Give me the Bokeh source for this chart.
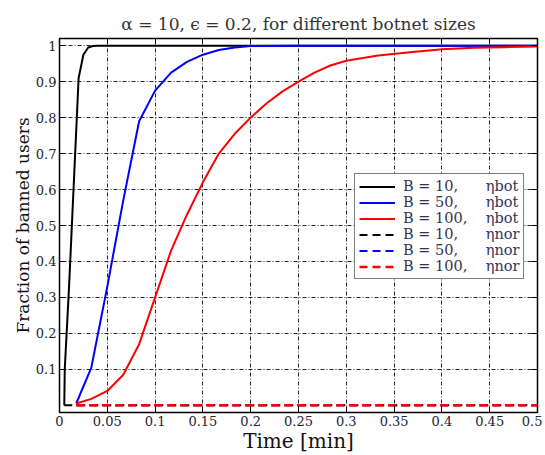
from bokeh.plotting import figure
from bokeh.models import Range1d, FixedTicker, CustomJSTickFormatter, LinearAxis, Legend, LegendItem
from bokeh.embed import file_html
from bokeh.resources import INLINE

# ---- data ----
t_b10 = [0.005, 0.0055, 0.01, 0.015, 0.02, 0.025, 0.03, 0.035, 0.04, 0.05, 0.5]
y_b10 = [0.0, 0.1, 0.33, 0.62, 0.91, 0.975, 0.995, 0.999, 1.0, 1.0, 1.0]

t_b50 = [0.0175, 0.0333, 0.05, 0.0667, 0.0833, 0.1, 0.1167, 0.1333, 0.15, 0.1667, 0.1833, 0.2, 0.25, 0.5]
y_b50 = [0.005, 0.105, 0.33, 0.57, 0.79, 0.875, 0.925, 0.955, 0.975, 0.988, 0.995, 0.999, 1.0, 1.0]

t_b100 = [0.0175, 0.0333, 0.05, 0.0667, 0.0833, 0.1, 0.1167, 0.1333, 0.15, 0.1667, 0.1833, 0.2,
          0.2167, 0.2333, 0.25, 0.2667, 0.2833, 0.3, 0.3333, 0.3667, 0.4, 0.4333, 0.4667, 0.5]
y_b100 = [0.005, 0.018, 0.04, 0.085, 0.17, 0.3, 0.43, 0.53, 0.62, 0.7, 0.755, 0.8,
          0.84, 0.873, 0.9, 0.925, 0.945, 0.958, 0.973, 0.982, 0.99, 0.994, 0.996, 0.998]

t_nor10 = [0.005, 0.5]
y_nor10 = [0.0, 0.0]
t_nor50 = [0.0175, 0.5]
y_nor50 = [0.0, 0.0]
t_nor100 = [0.0175, 0.5]
y_nor100 = [0.0, 0.0]

x_ticks = [0, 0.05, 0.1, 0.15, 0.2, 0.25, 0.3, 0.35, 0.4, 0.45, 0.5]
y_ticks = [0.1, 0.2, 0.3, 0.4, 0.5, 0.6, 0.7, 0.8, 0.9, 1.0]

labels = ["B = 10,      \u03b7bot", "B = 50,      \u03b7bot", "B = 100,    \u03b7bot",
          "B = 10,      \u03b7nor", "B = 50,      \u03b7nor", "B = 100,    \u03b7nor"]

SERIF = "DejaVu Serif"

p = figure(width=542, height=455, output_backend="svg", toolbar_location=None,
           x_range=Range1d(0, 0.5), y_range=Range1d(-0.02, 1.02),
           title="\u03b1 = 10, \u03f5 = 0.2, for different botnet sizes")
p.min_border_left = 59
p.min_border_right = 5
p.min_border_top = 38
p.min_border_bottom = 38

p.title.align = "center"
p.title.text_font = SERIF
p.title.text_font_size = "17px"
p.title.text_font_style = "normal"
p.title.text_color = "#333333"

fmt = CustomJSTickFormatter(code="return String(Math.round(tick*100)/100);")
blank = CustomJSTickFormatter(code="return '';")

p.xaxis.ticker = FixedTicker(ticks=x_ticks)
p.yaxis.ticker = FixedTicker(ticks=y_ticks)
p.xaxis.formatter = fmt
p.yaxis.formatter = fmt
for ax in p.xaxis + p.yaxis:
    ax.major_label_text_font = SERIF
    ax.major_label_text_font_size = "13px"
    ax.major_label_text_color = "#223"
    ax.axis_label_text_font = SERIF
    ax.axis_label_text_font_style = "normal"
    ax.axis_label_text_color = "#111"
    ax.major_tick_in = 6
    ax.major_tick_out = 0
    ax.minor_tick_in = 0
    ax.minor_tick_out = 0
    ax.axis_line_color = None
    ax.major_tick_line_color = "black"
    ax.major_label_standoff = 3
    ax.axis_label_standoff = 0
p.xaxis.axis_label = "Time [min]"
p.yaxis.axis_label = "Fraction of banned users"
p.xaxis.axis_label_text_font_size = "20px"
p.yaxis.axis_label_text_font_size = "17px"

# top / right tick-only axes
top = LinearAxis(ticker=FixedTicker(ticks=x_ticks), formatter=blank,
                 major_tick_in=6, major_tick_out=0, minor_tick_in=0, minor_tick_out=0,
                 axis_line_color=None, major_label_standoff=0)
right = LinearAxis(ticker=FixedTicker(ticks=y_ticks), formatter=blank,
                   major_tick_in=6, major_tick_out=0, minor_tick_in=0, minor_tick_out=0,
                   axis_line_color=None, major_label_standoff=0)
p.add_layout(top, "above")
p.add_layout(right, "right")

p.xgrid.ticker = FixedTicker(ticks=x_ticks)
p.ygrid.ticker = FixedTicker(ticks=y_ticks)
for g in (p.xgrid, p.ygrid):
    g.grid_line_color = "black"
    g.grid_line_dash = "4 2 1 2"
    g.grid_line_width = 1
    g.grid_line_alpha = 0.85

p.outline_line_color = "black"
p.outline_line_width = 1.5
p.background_fill_color = "white"
p.border_fill_color = "white"

lw = 2
r1 = p.line(t_b10, y_b10, line_color="black", line_width=lw)
r2 = p.line(t_b50, y_b50, line_color="#0000ff", line_width=lw)
r3 = p.line(t_b100, y_b100, line_color="#ff0000", line_width=lw)
r4 = p.line(t_nor10, y_nor10, line_color="black", line_width=lw, line_dash="8 5")
r5 = p.line(t_nor50, y_nor50, line_color="#0000ff", line_width=lw, line_dash="8 5")
r6 = p.line(t_nor100, y_nor100, line_color="#ff0000", line_width=2.6, line_dash="8 5")

legend = Legend(items=[LegendItem(label=l, renderers=[r]) for l, r in
                       zip(labels, [r1, r2, r3, r4, r5, r6])],
                location=(295, 133))
legend.label_text_font = SERIF
legend.label_text_font_size = "14.5px"
legend.label_text_line_height = 1.0
legend.label_text_color = "#333355"
legend.glyph_width = 36
legend.glyph_height = 15
legend.label_height = 15
legend.spacing = 0
legend.padding = 4
legend.margin = 0
legend.label_standoff = 8
legend.border_line_color = "black"
legend.border_line_width = 1.5
legend.background_fill_alpha = 1
p.add_layout(legend, "center")

open("out.html", "w").write(file_html(p, INLINE))
